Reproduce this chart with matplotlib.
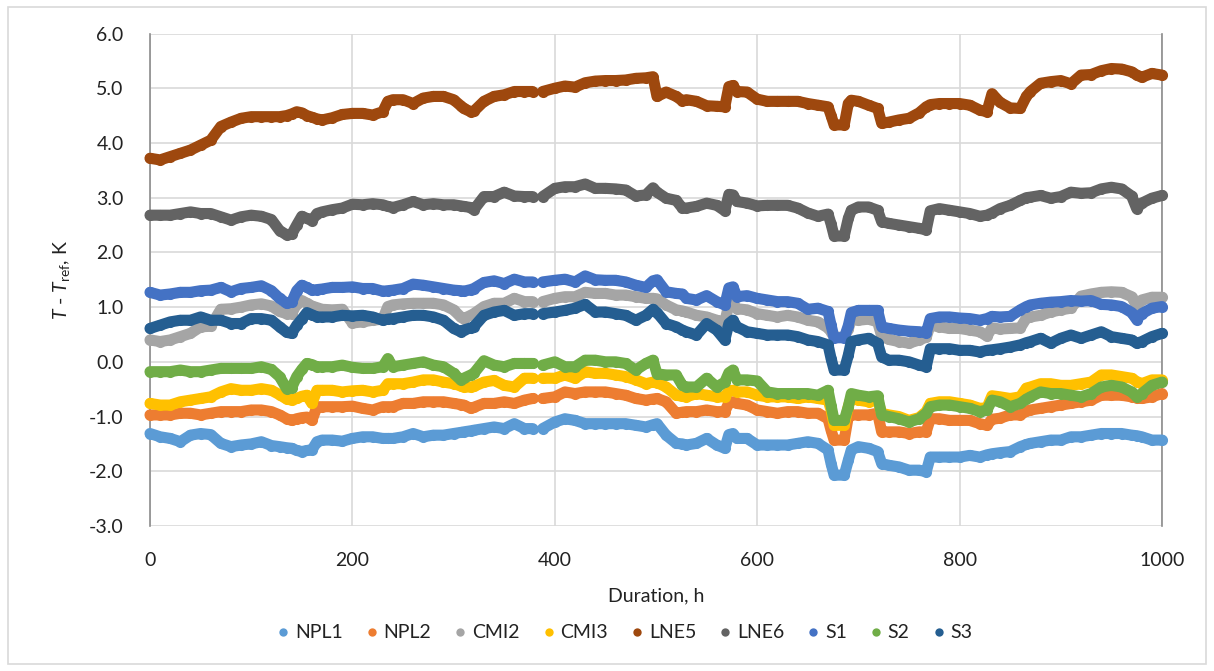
import numpy as np
import matplotlib
matplotlib.use('Agg')
import matplotlib.pyplot as plt
from matplotlib.lines import Line2D
from matplotlib.patches import Rectangle
from matplotlib.ticker import FuncFormatter, MultipleLocator

plt.rcParams['font.family'] = ['Lato', 'DejaVu Sans']
plt.rcParams['mathtext.fontset'] = 'custom'
plt.rcParams['mathtext.rm'] = 'Lato'
plt.rcParams['mathtext.it'] = 'Lato:italic'

nan = float('nan')

# 测量时间点 (h)，383 h 处为数据中断
HOURS = [0, 10, 20, 30, 40, 50, 60, 70, 80, 90, 100, 110, 120, 128, 135, 140, 145, 150, 155, 160, 165, 170, 180, 190, 200,
         210, 220, 230, 235, 240, 250, 260, 270, 280, 290, 300, 307, 310, 317, 320, 330, 340, 350, 360, 370, 378, 383, 388,
         400, 410, 420, 430, 440, 450, 460, 470, 480, 490, 497, 501, 510, 520, 526, 530, 540, 550, 560, 568, 572, 576, 580, 590,
         600, 610, 620, 630, 640, 650, 660, 670, 673, 676, 686, 690, 693, 700, 710, 719, 723, 730, 740, 750, 760, 767, 771,
         780, 790, 800, 810, 820, 827, 832, 840, 850, 860, 866, 870, 880, 890, 900, 910, 920, 930, 940, 950, 960, 970, 975, 980, 990, 1000]

NPL1 = [-1.31, -1.37, -1.40, -1.46, -1.34, -1.31, -1.33, -1.49, -1.55, -1.52, -1.50, -1.46, -1.53, -1.55, -1.57, -1.58, -1.62, -1.64, -1.62, -1.61, -1.46, -1.43, -1.43, -1.45, -1.40,
        -1.37, -1.37, -1.40, -1.40, -1.40, -1.37, -1.31, -1.37, -1.34, -1.34, -1.31, -1.29, -1.28, -1.26, -1.25, -1.22, -1.19, -1.22, -1.13, -1.22, -1.22, nan, -1.22,
        -1.10, -1.04, -1.07, -1.13, -1.13, -1.13, -1.13, -1.13, -1.16, -1.19, -1.15, -1.13, -1.34, -1.49, -1.50, -1.52, -1.49, -1.40, -1.52, -1.58, -1.33, -1.31, -1.40, -1.40,
        -1.52, -1.52, -1.52, -1.52, -1.49, -1.46, -1.49, -1.61, -1.86, -2.07, -2.07, -1.80, -1.61, -1.55, -1.58, -1.64, -1.86, -1.89, -1.92, -1.98, -1.98, -2.01, -1.74,
        -1.74, -1.74, -1.74, -1.71, -1.74, -1.70, -1.68, -1.66, -1.64, -1.55, -1.51, -1.49, -1.46, -1.43, -1.43, -1.37, -1.37, -1.34, -1.31, -1.31, -1.31, -1.34, -1.35, -1.37, -1.43, -1.43]

NPL2 = [-0.97, -0.97, -0.97, -0.94, -0.94, -0.97, -0.94, -0.91, -0.91, -0.91, -0.88, -0.88, -0.91, -0.97, -1.04, -1.07, -1.04, -1.02, -1.01, -1.07, -0.82, -0.82, -0.82, -0.82, -0.81,
        -0.85, -0.88, -0.82, -0.82, -0.82, -0.76, -0.76, -0.73, -0.73, -0.73, -0.76, -0.78, -0.79, -0.85, -0.83, -0.76, -0.76, -0.73, -0.76, -0.70, -0.67, nan, -0.67,
        -0.64, -0.55, -0.58, -0.55, -0.55, -0.55, -0.58, -0.61, -0.67, -0.70, -0.68, -0.67, -0.73, -0.94, -0.92, -0.91, -0.91, -0.88, -0.91, -0.91, -0.75, -0.73, -0.76, -0.79,
        -0.88, -0.91, -0.94, -0.91, -0.91, -0.94, -0.94, -1.04, -1.25, -1.43, -1.43, -1.00, -0.97, -0.97, -0.97, -0.94, -1.28, -1.28, -1.28, -1.31, -1.28, -1.28, -1.04,
        -1.04, -1.07, -1.07, -1.07, -1.13, -1.16, -1.05, -1.03, -0.97, -0.97, -0.90, -0.88, -0.85, -0.82, -0.79, -0.76, -0.73, -0.70, -0.61, -0.61, -0.61, -0.64, -0.66, -0.67, -0.64, -0.58]

CMI2 = [0.40, 0.37, 0.40, 0.46, 0.52, 0.64, 0.65, 0.96, 0.97, 1.00, 1.04, 1.06, 1.02, 0.92, 0.88, 0.88, 1.06, 1.12, 1.07, 1.02, 0.99, 0.96, 0.95, 0.96, 0.71,
        0.73, 0.76, 0.78, 1.01, 1.04, 1.06, 1.07, 1.07, 1.07, 1.04, 0.95, 0.82, 0.79, 0.85, 0.88, 1.01, 1.07, 1.07, 1.16, 1.10, 1.10, nan, 1.10,
        1.16, 1.19, 1.19, 1.27, 1.25, 1.25, 1.22, 1.22, 1.19, 1.16, 1.16, 1.15, 1.04, 0.95, 0.93, 0.91, 0.85, 0.82, 0.76, 0.73, 1.05, 1.07, 0.97, 0.95,
        0.88, 0.85, 0.82, 0.85, 0.82, 0.76, 0.73, 0.62, 0.55, 0.45, 0.45, 0.60, 0.78, 0.76, 0.78, 0.73, 0.47, 0.41, 0.37, 0.34, 0.40, 0.45, 0.67,
        0.64, 0.61, 0.61, 0.58, 0.55, 0.47, 0.62, 0.60, 0.61, 0.62, 0.80, 0.82, 0.85, 0.91, 0.95, 0.98, 1.20, 1.24, 1.27, 1.28, 1.27, 1.19, 1.02, 1.13, 1.18, 1.18]

CMI3 = [-0.76, -0.79, -0.79, -0.73, -0.70, -0.67, -0.64, -0.55, -0.49, -0.52, -0.52, -0.49, -0.52, -0.60, -0.68, -0.70, -0.67, -0.63, -0.61, -0.76, -0.52, -0.52, -0.52, -0.55, -0.53,
        -0.52, -0.55, -0.52, -0.40, -0.40, -0.40, -0.37, -0.33, -0.33, -0.37, -0.40, -0.44, -0.46, -0.46, -0.45, -0.37, -0.34, -0.43, -0.46, -0.30, -0.30, nan, -0.30,
        -0.30, -0.24, -0.30, -0.18, -0.21, -0.21, -0.24, -0.27, -0.33, -0.40, -0.37, -0.38, -0.46, -0.61, -0.63, -0.64, -0.58, -0.61, -0.64, -0.64, -0.53, -0.52, -0.55, -0.55,
        -0.61, -0.64, -0.64, -0.64, -0.67, -0.64, -0.67, -0.70, -0.88, -1.16, -1.16, -0.82, -0.64, -0.70, -0.73, -0.70, -0.94, -0.97, -1.00, -1.07, -1.02, -0.91, -0.76,
        -0.73, -0.73, -0.76, -0.79, -0.85, -0.84, -0.62, -0.64, -0.67, -0.64, -0.48, -0.46, -0.40, -0.40, -0.43, -0.43, -0.40, -0.37, -0.24, -0.24, -0.27, -0.30, -0.36, -0.40, -0.33, -0.33]

LNE5 = [3.72, 3.69, 3.75, 3.81, 3.87, 3.96, 4.05, 4.30, 4.38, 4.45, 4.48, 4.48, 4.48, 4.48, 4.50, 4.53, 4.57, 4.55, 4.50, 4.47, 4.44, 4.42, 4.46, 4.52, 4.54,
        4.54, 4.51, 4.57, 4.76, 4.79, 4.79, 4.72, 4.82, 4.85, 4.85, 4.79, 4.68, 4.63, 4.57, 4.58, 4.76, 4.85, 4.88, 4.94, 4.94, 4.94, nan, 4.94,
        5.00, 5.04, 5.02, 5.10, 5.13, 5.14, 5.14, 5.15, 5.18, 5.19, 5.21, 4.85, 4.93, 4.85, 4.77, 4.79, 4.76, 4.68, 4.67, 4.66, 5.03, 5.05, 4.94, 4.93,
        4.80, 4.76, 4.76, 4.76, 4.76, 4.72, 4.69, 4.66, 4.50, 4.33, 4.33, 4.72, 4.78, 4.76, 4.69, 4.63, 4.36, 4.38, 4.42, 4.45, 4.55, 4.66, 4.70,
        4.72, 4.72, 4.72, 4.69, 4.60, 4.57, 4.90, 4.74, 4.64, 4.63, 4.85, 4.94, 5.09, 5.12, 5.14, 5.08, 5.24, 5.25, 5.32, 5.36, 5.35, 5.30, 5.24, 5.20, 5.27, 5.24]

LNE6 = [2.68, 2.68, 2.68, 2.71, 2.74, 2.71, 2.71, 2.65, 2.59, 2.65, 2.68, 2.66, 2.60, 2.40, 2.32, 2.33, 2.50, 2.66, 2.62, 2.58, 2.71, 2.74, 2.78, 2.81, 2.88,
        2.87, 2.89, 2.87, 2.84, 2.82, 2.87, 2.93, 2.87, 2.89, 2.87, 2.87, 2.85, 2.84, 2.82, 2.78, 3.02, 3.02, 3.10, 3.03, 3.02, 3.02, nan, 3.02,
        3.17, 3.20, 3.20, 3.25, 3.17, 3.17, 3.16, 3.14, 3.03, 3.05, 3.18, 3.10, 2.99, 2.95, 2.81, 2.81, 2.84, 2.90, 2.86, 2.76, 3.06, 3.05, 2.93, 2.90,
        2.85, 2.86, 2.86, 2.86, 2.81, 2.72, 2.66, 2.70, 2.52, 2.30, 2.30, 2.62, 2.77, 2.83, 2.83, 2.77, 2.56, 2.53, 2.50, 2.47, 2.44, 2.41, 2.76,
        2.80, 2.77, 2.74, 2.71, 2.66, 2.68, 2.72, 2.80, 2.86, 2.95, 3.00, 3.01, 3.04, 2.99, 3.02, 3.10, 3.08, 3.09, 3.16, 3.19, 3.16, 3.03, 2.80, 2.90, 2.99, 3.04]

S1 = [1.27, 1.22, 1.24, 1.27, 1.27, 1.30, 1.31, 1.36, 1.28, 1.34, 1.36, 1.39, 1.30, 1.16, 1.07, 1.09, 1.30, 1.40, 1.36, 1.31, 1.32, 1.33, 1.36, 1.36, 1.37,
      1.34, 1.34, 1.29, 1.30, 1.31, 1.34, 1.42, 1.40, 1.37, 1.34, 1.31, 1.30, 1.29, 1.32, 1.34, 1.45, 1.48, 1.43, 1.51, 1.46, 1.46, nan, 1.46,
      1.49, 1.51, 1.46, 1.57, 1.50, 1.49, 1.49, 1.46, 1.40, 1.36, 1.48, 1.50, 1.28, 1.25, 1.24, 1.16, 1.13, 1.21, 1.10, 1.04, 1.35, 1.37, 1.19, 1.21,
      1.16, 1.13, 1.10, 1.10, 1.07, 0.96, 0.98, 0.92, 0.67, 0.44, 0.44, 0.66, 0.90, 0.94, 0.94, 0.94, 0.64, 0.61, 0.58, 0.56, 0.55, 0.53, 0.79,
      0.82, 0.82, 0.80, 0.79, 0.76, 0.79, 0.83, 0.82, 0.83, 0.95, 1.01, 1.04, 1.07, 1.09, 1.10, 1.12, 1.11, 1.12, 1.05, 1.04, 1.01, 0.90, 0.77, 0.88, 0.98, 1.01]

S2 = [-0.18, -0.18, -0.18, -0.15, -0.18, -0.18, -0.15, -0.12, -0.12, -0.12, -0.12, -0.09, -0.14, -0.27, -0.49, -0.47, -0.27, -0.14, -0.03, -0.05, -0.09, -0.09, -0.09, -0.06, -0.10,
      -0.12, -0.12, -0.09, 0.06, -0.09, -0.06, -0.03, 0.00, -0.06, -0.09, -0.21, -0.33, -0.30, -0.24, -0.21, 0.02, -0.06, -0.09, -0.03, -0.03, -0.03, nan, -0.06,
      0.00, -0.09, -0.09, 0.03, 0.03, 0.00, 0.00, -0.03, -0.15, -0.03, 0.03, -0.22, -0.24, -0.24, -0.43, -0.46, -0.46, -0.30, -0.46, -0.37, -0.20, -0.15, -0.33, -0.33,
      -0.35, -0.55, -0.58, -0.58, -0.58, -0.58, -0.61, -0.52, -0.80, -1.07, -1.07, -0.82, -0.58, -0.61, -0.64, -0.62, -0.97, -1.00, -1.04, -1.10, -1.04, -0.94, -0.82,
      -0.79, -0.79, -0.82, -0.85, -0.91, -0.88, -0.70, -0.73, -0.82, -0.76, -0.68, -0.64, -0.55, -0.58, -0.58, -0.61, -0.64, -0.58, -0.46, -0.43, -0.46, -0.55, -0.64, -0.58, -0.43, -0.37]

S3 = [0.61, 0.67, 0.73, 0.76, 0.76, 0.82, 0.76, 0.76, 0.70, 0.70, 0.79, 0.79, 0.76, 0.64, 0.54, 0.52, 0.67, 0.78, 0.90, 0.86, 0.82, 0.82, 0.82, 0.85, 0.84,
      0.85, 0.82, 0.76, 0.78, 0.79, 0.82, 0.85, 0.85, 0.82, 0.76, 0.61, 0.55, 0.58, 0.62, 0.64, 0.85, 0.91, 0.94, 0.85, 0.88, 0.88, nan, 0.88,
      0.91, 0.94, 0.98, 1.05, 0.91, 0.91, 0.88, 0.85, 0.76, 0.85, 0.96, 0.90, 0.70, 0.64, 0.58, 0.55, 0.49, 0.70, 0.58, 0.40, 0.70, 0.76, 0.64, 0.55,
      0.52, 0.49, 0.49, 0.49, 0.46, 0.40, 0.37, 0.31, 0.06, -0.15, -0.15, 0.12, 0.37, 0.40, 0.43, 0.34, 0.09, 0.03, 0.03, 0.00, -0.06, -0.09, 0.24,
      0.24, 0.24, 0.21, 0.21, 0.18, 0.21, 0.22, 0.24, 0.27, 0.31, 0.35, 0.37, 0.43, 0.34, 0.43, 0.49, 0.43, 0.49, 0.55, 0.46, 0.43, 0.40, 0.34, 0.37, 0.46, 0.52]

SERIES_NAMES = ['NPL1', 'NPL2', 'CMI2', 'CMI3', 'LNE5', 'LNE6', 'S1', 'S2', 'S3']
SERIES_VALUES = [NPL1, NPL2, CMI2, CMI3, LNE5, LNE6, S1, S2, S3]
SERIES_COLORS = ['#5B9BD5', '#ED7D31', '#A5A5A5', '#FFC000', '#9E480E',
                 '#636363', '#4472C4', '#70AD47', '#255E91']

GRID_COLOR = '#D9D9D9'
AXIS_COLOR = '#8C8C8C'
TEXT_COLOR = '#222222'
FONT_SIZE = 14

fig = plt.figure(figsize=(12.14, 6.71), dpi=100)
ax = fig.add_axes([150 / 1214, 1 - 526 / 671, 1012 / 1214, 492.5 / 671])

# 每个序列画成粗线 + 圆点，模拟密集的散点带
for name, vals, color in zip(SERIES_NAMES, SERIES_VALUES, SERIES_COLORS):
    ax.plot(HOURS, vals, color=color, lw=8, marker='o', ms=8, mew=0,
            solid_capstyle='round', solid_joinstyle='round', clip_on=False, zorder=3)

ax.set_xlim(0, 1000)
ax.set_ylim(-3, 6)
ax.xaxis.set_major_locator(MultipleLocator(200))
ax.yaxis.set_major_locator(MultipleLocator(1.0))
ax.yaxis.set_major_formatter(FuncFormatter(lambda v, pos: f'{v:.1f}'))
ax.tick_params(length=0, labelsize=FONT_SIZE, colors=TEXT_COLOR)
ax.tick_params(axis='x', pad=19)
ax.tick_params(axis='y', pad=19)

ax.grid(True, color=GRID_COLOR, lw=1.2, zorder=0)
ax.set_axisbelow(True)
for side in ['top', 'bottom']:
    ax.spines[side].set_visible(False)
for side in ['left', 'right']:
    ax.spines[side].set_color(AXIS_COLOR)
    ax.spines[side].set_linewidth(1.2)

ax.set_xlabel('Duration, h', fontsize=FONT_SIZE, color=TEXT_COLOR, labelpad=13)
fig.text(62 / 1214, 1 - 280 / 671, r'$T$ - $T_{\rm ref}$, K', rotation=90,
         ha='center', va='center', fontsize=FONT_SIZE, color=TEXT_COLOR)

# 图例：一行，圆点标记
handles = [Line2D([0], [0], marker='o', ls='', color=c, ms=6, mew=0)
           for c in SERIES_COLORS]
fig.legend(handles, SERIES_NAMES, loc='center', ncol=9,
           bbox_to_anchor=(623 / 1214, 1 - 633 / 671), frameon=False,
           fontsize=FONT_SIZE, handletextpad=0.1, columnspacing=1.0,
           handlelength=1.0, labelcolor=TEXT_COLOR)

# 图表外框
fig.patches.append(Rectangle((8 / 1214, 7 / 671), 1198 / 1214, 657 / 671,
                             transform=fig.transFigure, fill=False,
                             edgecolor=GRID_COLOR, lw=1.2))

fig.savefig('out.png', dpi=100, facecolor='white')
